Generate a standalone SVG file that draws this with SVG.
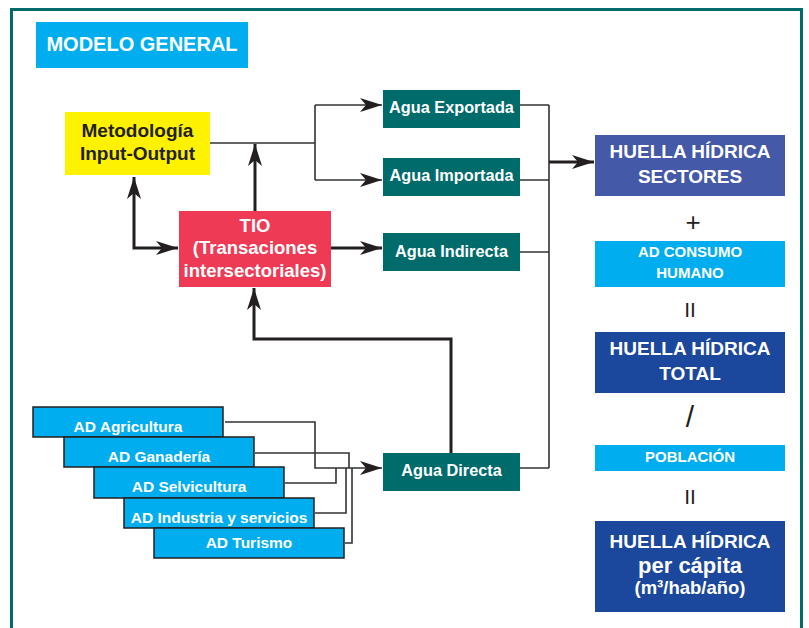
<svg xmlns="http://www.w3.org/2000/svg" width="809" height="628" viewBox="0 0 809 628">
<defs>
<marker id="ah" markerUnits="userSpaceOnUse" markerWidth="24" markerHeight="14" refX="22" refY="7" orient="auto-start-reverse" viewBox="0 0 24 14">
<path d="M0,0 L22,7 L0,14 L6,7 Z" fill="#231F20"/>
</marker>
</defs>
<style>
text{font-family:"Liberation Sans",Arial,sans-serif;font-weight:bold;text-anchor:middle}
.w{fill:#ffffff}
.k{fill:#231F20}
.teal{fill:#006B6B}
.ad{fill:#00AEEF;stroke:#231F20;stroke-width:1.5}
.thin{fill:none;stroke:#333333;stroke-width:1.6}
.thick{fill:none;stroke:#231F20;stroke-width:3}
.sym{font-weight:normal;fill:#231F20}
</style>
<rect x="0" y="0" width="809" height="628" fill="#ffffff"/>
<rect x="11.5" y="9.5" width="790" height="640" fill="none" stroke="#006B6B" stroke-width="3"/>

<g id="title">
<rect x="36" y="22" width="212" height="46" fill="#00AEEF"/>
<text x="142" y="51" class="w" font-size="20">MODELO GENERAL</text>
</g>

<g id="connectors">
<path class="thin" d="M210,143 H315 M315,105 V180"/>
<path class="thin" d="M315,105 H382" marker-end="url(#ah)"/>
<path class="thin" d="M315,180 H382" marker-end="url(#ah)"/>
<path class="thick" d="M255,211 V144" marker-end="url(#ah)"/>
<path class="thick" d="M134,177 V248 H178" marker-start="url(#ah)" marker-end="url(#ah)"/>
<path class="thick" d="M331,248 H382" marker-end="url(#ah)"/>
<path class="thin" d="M520,105 H549 M520,180 H549 M520,252 H549 M520,468 H549 M549,105 V468"/>
<path class="thick" d="M549,162 H594" marker-end="url(#ah)"/>
<path class="thick" d="M451,453 V339 H254 V288" marker-end="url(#ah)"/>
<path class="thin" d="M225,422 H315 V468 H382" marker-end="url(#ah)"/>
<path class="thin" d="M255,453 H349 V468"/>
<path class="thin" d="M285,483 H336 V468"/>
<path class="thin" d="M315,513 H346 V468"/>
<path class="thin" d="M345,543 H352 V468"/>
</g>

<g id="metodologia">
<rect x="65" y="112" width="145" height="63" fill="#FFF200"/>
<text x="137.5" y="137" class="k" font-size="19">Metodología</text>
<text x="137.5" y="160" class="k" font-size="19">Input-Output</text>
</g>

<g id="tio">
<rect x="179" y="211" width="152" height="76" fill="#EE3A54"/>
<text x="255" y="232" class="w" font-size="18.5">TIO</text>
<text x="255" y="254" class="w" font-size="18.5">(Transaciones</text>
<text x="255" y="277" class="w" font-size="18.5">intersectoriales)</text>
</g>

<g id="agua-exportada">
<rect x="383" y="90" width="137" height="38" class="teal"/>
<text x="451.5" y="113" class="w" font-size="16.3">Agua Exportada</text>
</g>
<g id="agua-importada">
<rect x="383" y="158" width="137" height="38" class="teal"/>
<text x="451.5" y="181" class="w" font-size="16.3">Agua Importada</text>
</g>
<g id="agua-indirecta">
<rect x="383" y="233" width="137" height="38" class="teal"/>
<text x="451.5" y="257" class="w" font-size="16.3">Agua Indirecta</text>
</g>
<g id="agua-directa">
<rect x="383" y="453" width="137" height="38" class="teal"/>
<text x="451.5" y="476" class="w" font-size="16.3">Agua Directa</text>
</g>

<g id="ad-agricultura">
<rect x="33" y="407" width="190" height="30" class="ad"/>
<text x="128" y="432" class="w" font-size="15.5">AD Agricultura</text>
</g>
<g id="ad-ganaderia">
<rect x="64" y="437" width="190" height="30" class="ad"/>
<text x="159" y="462" class="w" font-size="15.5">AD Ganadería</text>
</g>
<g id="ad-selvicultura">
<rect x="94" y="467" width="190" height="31" class="ad"/>
<text x="189" y="492" class="w" font-size="15.5">AD Selvicultura</text>
</g>
<g id="ad-industria">
<rect x="124" y="498" width="190" height="30" class="ad"/>
<text x="219" y="523" class="w" font-size="15.5">AD Industria y servicios</text>
</g>
<g id="ad-turismo">
<rect x="154" y="528" width="190" height="30" class="ad"/>
<text x="249" y="548" class="w" font-size="15.5">AD Turismo</text>
</g>

<g id="hh-sectores">
<rect x="595" y="135" width="190" height="61" fill="#4459A8"/>
<text x="690" y="158" class="w" font-size="19">HUELLA HÍDRICA</text>
<text x="690" y="183" class="w" font-size="19">SECTORES</text>
</g>
<text x="693" y="231" class="sym" font-size="26">+</text>
<g id="ad-consumo">
<rect x="595" y="241" width="190" height="46" fill="#00AEEF"/>
<text x="690" y="257" class="w" font-size="15">AD CONSUMO</text>
<text x="690" y="278" class="w" font-size="15">HUMANO</text>
</g>
<text x="690" y="317" class="sym" font-size="21">II</text>
<g id="hh-total">
<rect x="595" y="332" width="190" height="61" fill="#1B479C"/>
<text x="690" y="355" class="w" font-size="19">HUELLA HÍDRICA</text>
<text x="690" y="380" class="w" font-size="19">TOTAL</text>
</g>
<text x="690" y="427" class="sym" font-size="30">/</text>
<g id="poblacion">
<rect x="595" y="445" width="190" height="26" fill="#00AEEF"/>
<text x="690" y="462" class="w" font-size="15">POBLACIÓN</text>
</g>
<text x="690" y="504" class="sym" font-size="21">II</text>
<g id="hh-percapita">
<rect x="595" y="521" width="190" height="91" fill="#1B479C"/>
<text x="690" y="548" class="w" font-size="19">HUELLA HÍDRICA</text>
<text x="690" y="573" class="w" font-size="22">per cápita</text>
<text x="690" y="594" class="w" font-size="18.5">(m³/hab/año)</text>
</g>
</svg>
